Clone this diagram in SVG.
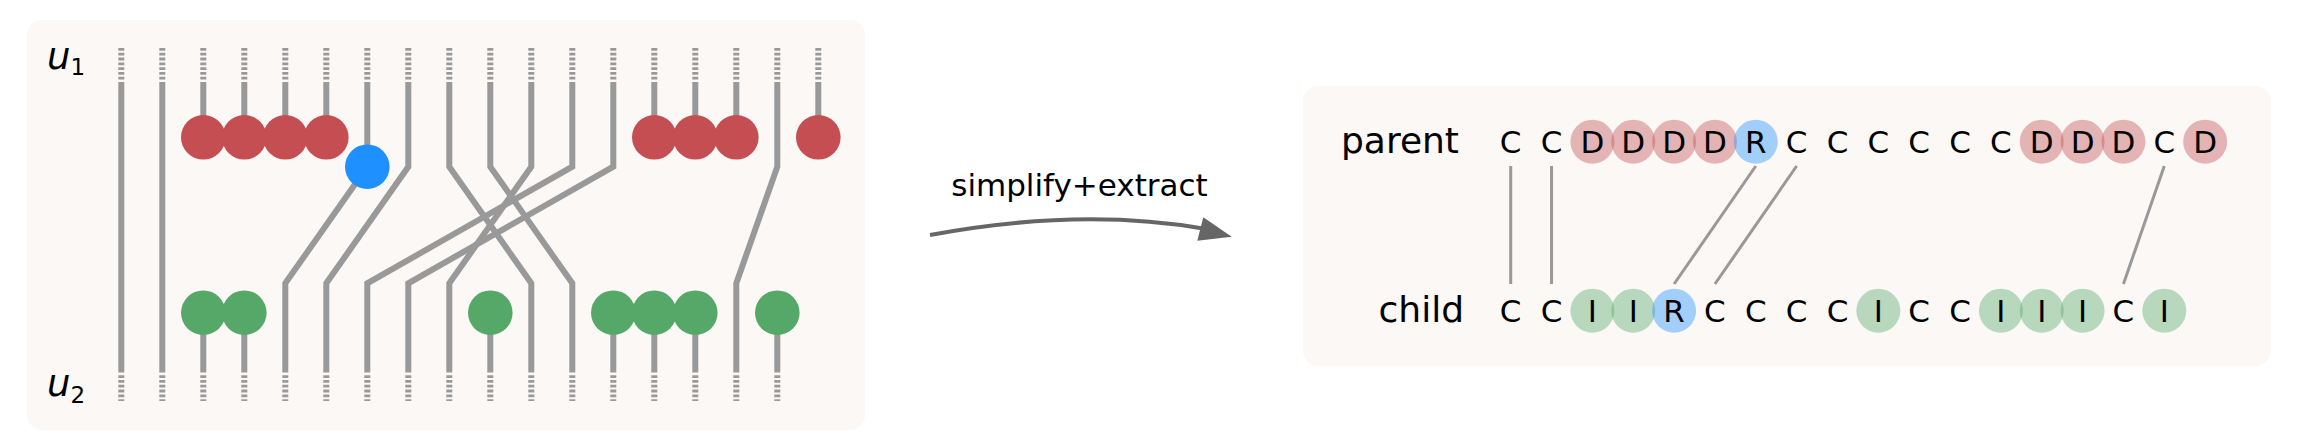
<svg xmlns="http://www.w3.org/2000/svg" width="2306" height="431" viewBox="0 0 2306 431">
<style>
.panel{fill:#fbf8f6}
.st{fill:none;stroke:#999999;stroke-width:6;stroke-linejoin:miter}
.dt{fill:none;stroke:#999999;stroke-width:6;stroke-dasharray:2.8 2}
.red{fill:#C44E52}
.grn{fill:#55A868}
.blu{fill:#1E90FF}
.rl{fill:#C44E52;fill-opacity:0.4}
.gl{fill:#55A868;fill-opacity:0.4}
.bl{fill:#1E90FF;fill-opacity:0.4}
.lt{font-family:"DejaVu Sans",sans-serif;font-size:31px;text-anchor:middle;fill:#000}
.lab{font-family:"DejaVu Sans",sans-serif;font-size:36px;text-anchor:end;fill:#000}
.lk{stroke:#999999;stroke-width:3;fill:none}
.u{font-family:"DejaVu Sans",sans-serif;font-style:italic;font-size:37px;fill:#000}
.sub{font-style:normal;font-size:23px}
</style>
<rect class="panel" x="27" y="20" width="838" height="410" rx="15"/>
<rect class="panel" x="1303" y="86" width="968" height="280" rx="15"/>
<g id="u-labels">
<text class="u" x="47" y="68.5">u<tspan class="sub" dy="6.5">1</tspan></text>
<text class="u" x="47" y="395.5">u<tspan class="sub" dy="7">2</tspan></text>
</g>
<g id="strand-dashes">
<path class="dt" d="M121.3,48V80M162.3,48V80M203.3,48V80M244.3,48V80M285.3,48V80M326.3,48V80M367.3,48V80M408.3,48V80M449.3,48V80M490.3,48V80M531.3,48V80M572.3,48V80M613.3,48V80M654.3,48V80M695.3,48V80M736.3,48V80M777.3,48V80M818.3,48V80"/>
<path class="dt" d="M121.3,375.2V401M162.3,375.2V401M203.3,375.2V401M244.3,375.2V401M285.3,375.2V401M326.3,375.2V401M367.3,375.2V401M408.3,375.2V401M449.3,375.2V401M490.3,375.2V401M531.3,375.2V401M572.3,375.2V401M613.3,375.2V401M654.3,375.2V401M695.3,375.2V401M736.3,375.2V401M777.3,375.2V401"/>
</g>
<g id="connectors">
<path class="st" d="M121.3,82V372.5"/>
<path class="st" d="M162.3,82V372.5"/>
<path class="st" d="M203.3,82V137.3M244.3,82V137.3M285.3,82V137.3M326.3,82V137.3"/>
<path class="st" d="M654.3,82V137.3M695.3,82V137.3M736.3,82V137.3M818.3,82V137.3"/>
<path class="st" d="M367.3,82V166.7L285.3,283.3V372.5"/>
<path class="st" d="M408.3,82V166.7L326.3,283.3V372.5"/>
<path class="st" d="M449.3,82V166.7L531.3,283.3V372.5"/>
<path class="st" d="M490.3,82V166.7L572.3,283.3V372.5"/>
<path class="st" d="M531.3,82V166.7L449.3,283.3V372.5"/>
<path class="st" d="M572.3,82V166.7L367.3,283.3V372.5"/>
<path class="st" d="M613.3,82V166.7L408.3,283.3V372.5"/>
<path class="st" d="M777.3,82V166.7L736.3,283.3V372.5"/>
<path class="st" d="M203.3,312.7V372.5M244.3,312.7V372.5M490.3,312.7V372.5M613.3,312.7V372.5M654.3,312.7V372.5M695.3,312.7V372.5M777.3,312.7V372.5"/>
</g>
<g id="parent-nodes">
<circle class="red" cx="203.3" cy="137.3" r="22.3"/>
<circle class="red" cx="244.3" cy="137.3" r="22.3"/>
<circle class="red" cx="285.3" cy="137.3" r="22.3"/>
<circle class="red" cx="326.3" cy="137.3" r="22.3"/>
<circle class="blu" cx="367.3" cy="166.7" r="22.3"/>
<circle class="red" cx="654.3" cy="137.3" r="22.3"/>
<circle class="red" cx="695.3" cy="137.3" r="22.3"/>
<circle class="red" cx="736.3" cy="137.3" r="22.3"/>
<circle class="red" cx="818.3" cy="137.3" r="22.3"/>
</g>
<g id="child-nodes">
<circle class="grn" cx="203.3" cy="312.7" r="22.3"/>
<circle class="grn" cx="244.3" cy="312.7" r="22.3"/>
<circle class="grn" cx="490.3" cy="312.7" r="22.3"/>
<circle class="grn" cx="613.3" cy="312.7" r="22.3"/>
<circle class="grn" cx="654.3" cy="312.7" r="22.3"/>
<circle class="grn" cx="695.3" cy="312.7" r="22.3"/>
<circle class="grn" cx="777.3" cy="312.7" r="22.3"/>
</g>
<g id="arrow">
<path d="M930,235 Q1080,207 1206,229" fill="none" stroke="#666666" stroke-width="4"/>
<polygon points="1231.7,236.7 1203.3,217.3 1197.3,240.7" fill="#666666"/>
<text x="1079.5" y="195.5" font-family="DejaVu Sans, sans-serif" font-size="31" text-anchor="middle" fill="#000">simplify+extract</text>
</g>
<g id="alignment-links">
<path class="lk" d="M1510.7,166V284M1551.55,166V284M1755.8,166L1674.1,284M1796.65,166L1714.95,284M2164.3,166L2123.45,284"/>
</g>
<g id="parent-row">
<text class="lab" x="1459" y="152.5">parent</text>
<circle class="rl" cx="1592.4" cy="141.7" r="22"/>
<circle class="rl" cx="1633.25" cy="141.7" r="22"/>
<circle class="rl" cx="1674.1" cy="141.7" r="22"/>
<circle class="rl" cx="1714.95" cy="141.7" r="22"/>
<circle class="bl" cx="1755.8" cy="141.7" r="22"/>
<circle class="rl" cx="2041.75" cy="141.7" r="22"/>
<circle class="rl" cx="2082.6" cy="141.7" r="22"/>
<circle class="rl" cx="2123.45" cy="141.7" r="22"/>
<circle class="rl" cx="2205.15" cy="141.7" r="22"/>
<text class="lt" x="1510.7" y="152.8">C</text>
<text class="lt" x="1551.55" y="152.8">C</text>
<text class="lt" x="1592.4" y="152.8">D</text>
<text class="lt" x="1633.25" y="152.8">D</text>
<text class="lt" x="1674.1" y="152.8">D</text>
<text class="lt" x="1714.95" y="152.8">D</text>
<text class="lt" x="1755.8" y="152.8">R</text>
<text class="lt" x="1796.65" y="152.8">C</text>
<text class="lt" x="1837.5" y="152.8">C</text>
<text class="lt" x="1878.35" y="152.8">C</text>
<text class="lt" x="1919.2" y="152.8">C</text>
<text class="lt" x="1960.05" y="152.8">C</text>
<text class="lt" x="2000.9" y="152.8">C</text>
<text class="lt" x="2041.75" y="152.8">D</text>
<text class="lt" x="2082.6" y="152.8">D</text>
<text class="lt" x="2123.45" y="152.8">D</text>
<text class="lt" x="2164.3" y="152.8">C</text>
<text class="lt" x="2205.15" y="152.8">D</text>
</g>
<g id="child-row">
<text class="lab" x="1464" y="321.5">child</text>
<circle class="gl" cx="1592.4" cy="310.7" r="22"/>
<circle class="gl" cx="1633.25" cy="310.7" r="22"/>
<circle class="bl" cx="1674.1" cy="310.7" r="22"/>
<circle class="gl" cx="1878.35" cy="310.7" r="22"/>
<circle class="gl" cx="2000.9" cy="310.7" r="22"/>
<circle class="gl" cx="2041.75" cy="310.7" r="22"/>
<circle class="gl" cx="2082.6" cy="310.7" r="22"/>
<circle class="gl" cx="2164.3" cy="310.7" r="22"/>
<text class="lt" x="1510.7" y="321.8">C</text>
<text class="lt" x="1551.55" y="321.8">C</text>
<text class="lt" x="1592.4" y="321.8">I</text>
<text class="lt" x="1633.25" y="321.8">I</text>
<text class="lt" x="1674.1" y="321.8">R</text>
<text class="lt" x="1714.95" y="321.8">C</text>
<text class="lt" x="1755.8" y="321.8">C</text>
<text class="lt" x="1796.65" y="321.8">C</text>
<text class="lt" x="1837.5" y="321.8">C</text>
<text class="lt" x="1878.35" y="321.8">I</text>
<text class="lt" x="1919.2" y="321.8">C</text>
<text class="lt" x="1960.05" y="321.8">C</text>
<text class="lt" x="2000.9" y="321.8">I</text>
<text class="lt" x="2041.75" y="321.8">I</text>
<text class="lt" x="2082.6" y="321.8">I</text>
<text class="lt" x="2123.45" y="321.8">C</text>
<text class="lt" x="2164.3" y="321.8">I</text>
</g>
</svg>
